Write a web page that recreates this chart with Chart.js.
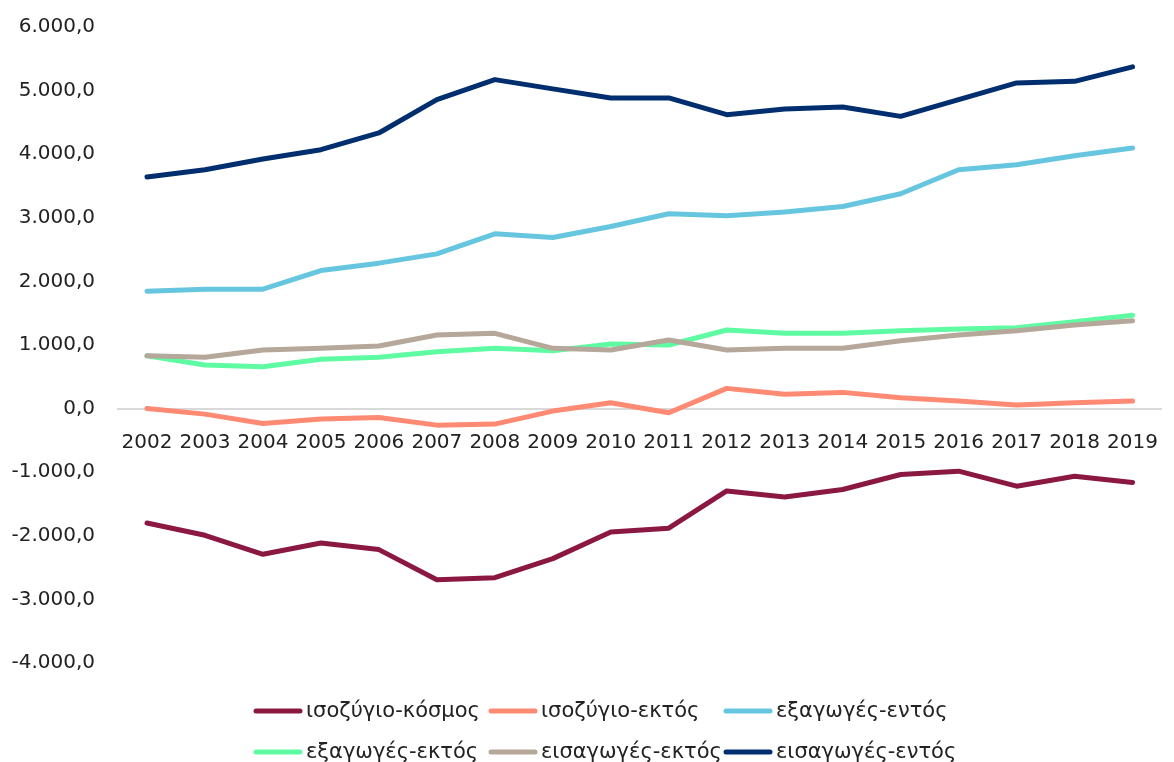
<!DOCTYPE html>
<html>
<head>
<meta charset="utf-8">
<script src="https://cdn.jsdelivr.net/npm/chart.js@4.4.1/dist/chart.umd.min.js"></script>
<style>
  html, body { margin: 0; padding: 0; background: #fff; overflow: hidden; }
  #wrap { width: 1180px; height: 762px; }
</style>
</head>
<body>
<div id="wrap"><canvas id="chart" width="1180" height="762"></canvas></div>
<script>
const years = ["2002", "2003", "2004", "2005", "2006", "2007", "2008", "2009", "2010",
    "2011", "2012", "2013", "2014", "2015", "2016", "2017", "2018", "2019"];

const balanceWorld = [-1798, -1992, -2291, -2113, -2217, -2690, -2658, -2359, -1940,
    -1880, -1294, -1389, -1272, -1036, -984, -1220, -1063, -1162];
const balanceOut = [0, -87, -233, -165, -139, -260, -244, -39, 91,
    -66, 318, 224, 255, 170, 118, 55, 91, 118];
const exportsIn = [1846, 1877, 1877, 2170, 2287, 2433, 2748, 2690, 2863,
    3063, 3031, 3090, 3178, 3378, 3756, 3835, 3976, 4098];
const exportsOut = [831, 685, 658, 775, 806, 894, 948, 910, 1016,
    1000, 1236, 1184, 1184, 1225, 1252, 1272, 1367, 1468];
const importsOut = [831, 806, 921, 948, 984, 1157, 1184, 948, 921,
    1079, 921, 948, 948, 1068, 1157, 1225, 1315, 1383];
const importsIn = [3641, 3756, 3924, 4071, 4334, 4858, 5173, 5027, 4885,
    4885, 4622, 4711, 4743, 4595, 4858, 5121, 5146, 5373];

const seriesNames = ["ισοζύγιο-κόσμος", "ισοζύγιο-εκτός", "εξαγωγές-εντός",
    "εξαγωγές-εκτός", "εισαγωγές-εκτός", "εισαγωγές-εντός"];
const seriesData = [balanceWorld, balanceOut, exportsIn, exportsOut, importsOut, importsIn];
const seriesColors = ["#8A1840", "#FF8A73", "#66C6DF", "#5FFBA3", "#B5A799", "#002E6E"];

const textColor = "#222222";
const fontFamily = "'DejaVu Sans', sans-serif";

// 6000 -> "6.000,0"
function formatTick(value) {
    var neg = value < 0;
    var s = Math.abs(Math.round(value)).toString();
    s = s.replace(/\B(?=(\d{3})+(?!\d))/g, ".");
    return (neg ? "-" : "") + s + ",0";
}

// legend in a fixed three-column grid below the plot
const legendCols = [256, 491, 726];
const legendRows = [711, 752];
const gridLegend = {
    id: "gridLegend",
    afterDraw(chart) {
        var ctx = chart.ctx;
        ctx.save();
        ctx.font = "21px " + fontFamily;
        ctx.textBaseline = "middle";
        chart.data.datasets.forEach(function (ds, i) {
            var x = legendCols[i % 3];
            var y = legendRows[Math.floor(i / 3)];
            ctx.beginPath();
            ctx.lineWidth = 5;
            ctx.lineCap = "round";
            ctx.strokeStyle = ds.borderColor;
            ctx.moveTo(x, y);
            ctx.lineTo(x + 44, y);
            ctx.stroke();
            ctx.fillStyle = textColor;
            ctx.fillText(ds.label, x + 50, y + 1);
        });
        ctx.restore();
    }
};

var datasets = [];
for (var i = 0; i < seriesNames.length; i++) {
    datasets.push({
        label: seriesNames[i],
        data: seriesData[i],
        borderColor: seriesColors[i],
        backgroundColor: seriesColors[i],
        borderWidth: 5,
        borderCapStyle: "round",
        borderJoinStyle: "round",
        pointRadius: 0,
        tension: 0,
        // later series sit on top
        order: seriesNames.length - i
    });
}

Chart.defaults.font.family = fontFamily;
Chart.defaults.color = textColor;

new Chart(document.getElementById("chart"), {
    type: "line",
    data: { labels: years, datasets: datasets },
    options: {
        responsive: false,
        animation: false,
        devicePixelRatio: 1,
        layout: { padding: { top: 27, bottom: 99, left: 0, right: 0 } },
        plugins: {
            legend: { display: false },
            tooltip: { enabled: false }
        },
        scales: {
            x: {
                position: { y: 0 },
                offset: true,
                grid: { display: false, drawTicks: false },
                border: { display: true, color: "#D9D9D9", width: 2 },
                ticks: {
                    padding: 22,
                    maxRotation: 0,
                    autoSkip: false,
                    font: { size: 20 },
                    color: textColor
                }
            },
            y: {
                min: -4000,
                max: 6000,
                grid: { display: false, drawTicks: false },
                border: { display: false },
                ticks: {
                    stepSize: 1000,
                    padding: 23,
                    font: { size: 20 },
                    color: textColor,
                    callback: formatTick
                },
                afterFit: function (scale) {
                    scale.width = 118;
                    scale.paddingTop = 0;
                    scale.paddingBottom = 0;
                }
            }
        }
    },
    plugins: [gridLegend]
});
</script>
</body>
</html>
